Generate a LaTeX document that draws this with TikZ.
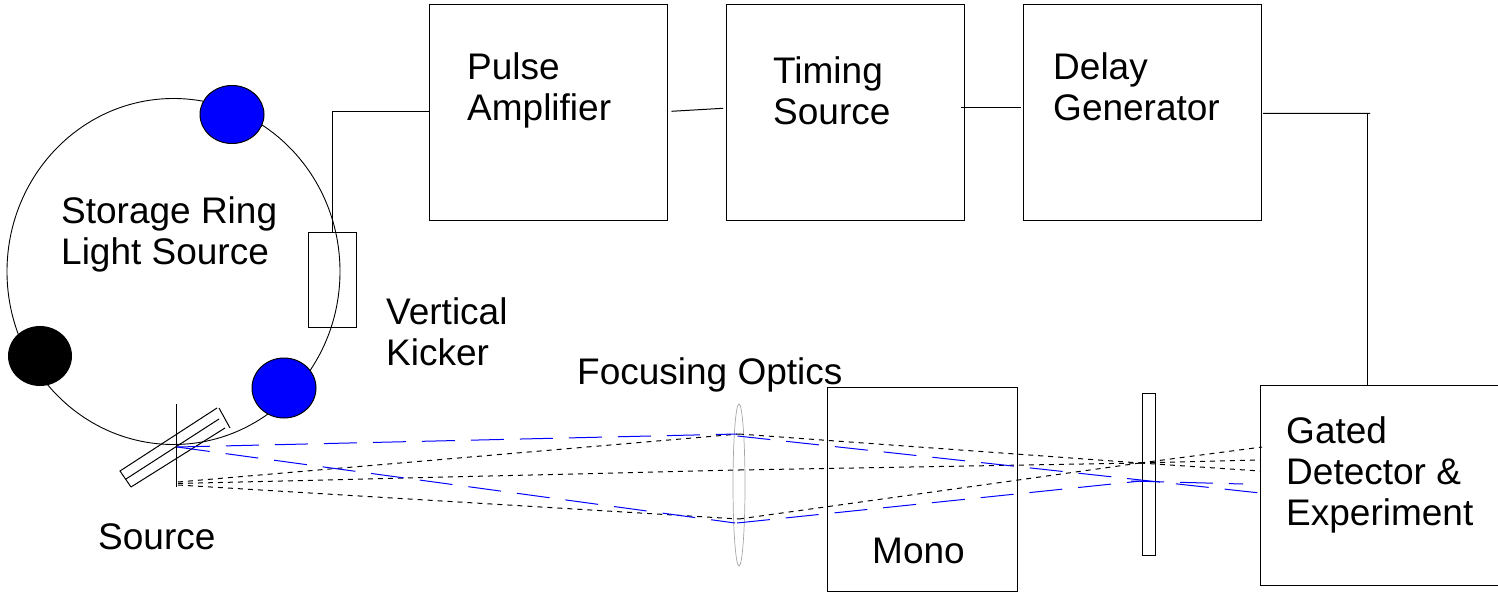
\documentclass[tikz,border=0pt]{standalone}
\usepackage{fontspec}
\setmainfont{Liberation Sans}
\usetikzlibrary{calc}
\tikzset{
  thinline/.style={draw=black,line width=1pt},
  box/.style={thinline,rectangle,inner sep=0pt,outer sep=0pt},
  label text/.style={anchor=west,align=left,inner sep=0pt,font=\fontsize{37}{41}\selectfont},
  blueray/.style={draw=blue,line width=1pt,dash pattern=on 33pt off 16pt},
  dotray/.style={draw=black,line width=1pt,dash pattern=on 5pt off 5pt},
}
\begin{document}
\begin{tikzpicture}[x=1pt,y=-1pt]
\useasboundingbox (0,0) rectangle (1498,593);
% ring and bunches
\draw[thinline,line width=0.9pt] (173.5,271.5) ellipse [x radius=166.5,y radius=173];
\fill[blue,draw=black,line width=1pt] (232,114.5) ellipse [x radius=32,y radius=29];
\fill[blue,draw=black,line width=1pt] (284,388) ellipse [x radius=32,y radius=30];
\fill[black] (40,356) ellipse [x radius=32,y radius=30];
% boxes
\node[box,minimum width=48pt,minimum height=95pt] (kick) at (332,280) {};
\node[box,minimum width=238pt,minimum height=216pt] (pa) at (548.5,112.3) {};
\node[box,minimum width=238pt,minimum height=216pt] (ts) at (845,112.3) {};
\node[box,minimum width=238pt,minimum height=216pt] (dg) at (1142,112.3) {};
\node[box,minimum width=238pt,minimum height=200pt] (gd) at (1379,485) {};
\node[box,minimum width=190pt,minimum height=204pt] (mono) at (922,489) {};
\node[box,minimum width=13pt,minimum height=162pt] (slit) at (1148.5,474) {};
% lens
\draw[gray!70,line width=0.7pt] (739,485) ellipse [x radius=6,y radius=81];
% connectors
\draw[thinline] (kick.north) -- (332,111.5) -- (pa.west |- 0,111.5);
\draw[thinline] ($(pa.east)+(4,-1)$) -- ($(ts.west)+(-3,-4)$);
\draw[thinline] ($(ts.east)+(-3,-5)$) -- ($(dg.west)+(-2,-5)$);
\coordinate (turn) at (1367,113.5);
\draw[thinline] ($(dg.east)+(2,1)$) -- ($(turn)+(3,0)$);
\draw[thinline] (turn) -- (turn |- gd.north);
% source
\coordinate (srcb) at (177,447);
\draw[thinline] (176,404) -- (176,487);
\draw[thinline] (131,487) -- (120,471) -- (217,408);
\draw[thinline] (126,479) -- (219,419);
\draw[thinline] (131,487) -- (225,428);
\draw[thinline] (219,408) -- (230,428);
% dotted rays
\coordinate (lt) at (739,434);
\coordinate (lm) at (739,470);
\coordinate (lb) at (739,519);
\coordinate (fx) at (1140,463);
\draw[dotray] (178,482) -- (lt);
\draw[dotray] (lt) -- (fx);
\draw[dotray] (fx) -- (1260,471);
\draw[dotray] (178,483.5) -- (lm);
\draw[dotray] (lm) -- (fx);
\draw[dotray] (fx) -- (1260,460);
\draw[dotray] (178,485) -- (lb);
\draw[dotray] (lb) -- (fx);
\draw[dotray] (fx) -- (1262,447);
% blue rays
\draw[blueray] (srcb) -- (737,434);
\draw[blueray] (737.5,436) -- (1260,493);
\draw[blueray] (srcb) -- (735,523);
\draw[blueray] (737,523) -- (1141,481);
\draw[blueray] (1131,481) -- (1243,484);
% labels
\node[label text] (t1) at (467,90) {Pulse\\Amplifier};
\node[label text] (t2) at (773,90.5) {Timing\\Source};
\node[label text] (t3) at (1053,86.5) {Delay\\Generator};
\node[label text] (t4) at (61,234) {Storage Ring\\Light Source};
\node[label text] (t5) at (386,331.5) {Vertical\\Kicker};
\node[label text] (t6) at (577,375) {Focusing Optics};
\node[label text] (t7) at (98,536.5) {Source};
\node[label text] (t8) at (872,550.5) {Mono};
\node[label text] (t9) at (1286,475) {Gated\\Detector \&\\Experiment};
\end{tikzpicture}
\end{document}
